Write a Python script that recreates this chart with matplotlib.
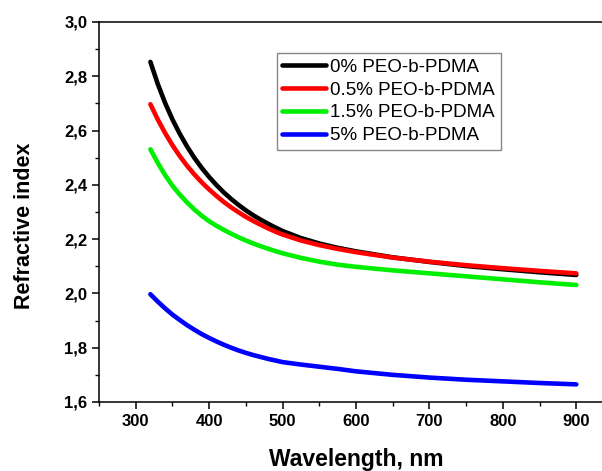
import matplotlib
matplotlib.use("Agg")
import matplotlib.pyplot as plt
from matplotlib.ticker import MultipleLocator, FuncFormatter

plt.rcParams['font.family'] = ['Liberation Sans', 'DejaVu Sans']

wavelength = [320, 330, 340, 350, 360, 370, 380, 390, 400, 410, 420, 430, 440, 450,
              460, 470, 480, 490, 500, 525, 550, 575, 600, 650, 700, 750, 800, 850, 900]
n_0 = [2.853, 2.772, 2.702, 2.641, 2.588, 2.541, 2.499, 2.462, 2.429, 2.399, 2.372,
       2.348, 2.326, 2.306, 2.288, 2.272, 2.257, 2.243, 2.230, 2.204, 2.184, 2.168,
       2.155, 2.133, 2.116, 2.101, 2.089, 2.078, 2.068]
n_05 = [2.697, 2.641, 2.591, 2.546, 2.506, 2.470, 2.438, 2.409, 2.383, 2.359, 2.337,
        2.317, 2.299, 2.282, 2.267, 2.253, 2.240, 2.228, 2.217, 2.195, 2.178, 2.164,
        2.152, 2.132, 2.117, 2.104, 2.093, 2.083, 2.074]
n_15 = [2.531, 2.481, 2.436, 2.397, 2.364, 2.335, 2.309, 2.286, 2.266, 2.249, 2.234,
        2.220, 2.207, 2.195, 2.184, 2.174, 2.165, 2.156, 2.148, 2.131, 2.117, 2.106,
        2.098, 2.085, 2.074, 2.063, 2.052, 2.041, 2.031]
n_5 = [1.997, 1.970, 1.945, 1.922, 1.902, 1.883, 1.866, 1.850, 1.836, 1.823, 1.811,
       1.800, 1.790, 1.781, 1.773, 1.766, 1.759, 1.753, 1.747, 1.738, 1.730, 1.722,
       1.713, 1.700, 1.690, 1.682, 1.676, 1.670, 1.665]

series = [
    (n_0, '#000000', '0% PEO-b-PDMA'),
    (n_05, '#ff0000', '0.5% PEO-b-PDMA'),
    (n_15, '#00ee00', '1.5% PEO-b-PDMA'),
    (n_5, '#0000ff', '5% PEO-b-PDMA'),
]

W, H = 602, 471
fig = plt.figure(figsize=(W / 100, H / 100), dpi=100)
# right spine sits just past the figure edge, as in the reference crop
ax = fig.add_axes([99 / W, 1 - 402 / H, (613 - 99) / W, (402 - 22) / H])

for y, c, lab in series:
    ax.plot(wavelength, y, color=c, lw=3.3, label=lab,
            solid_capstyle='round', solid_joinstyle='round')

ax.set_xlim(250, 950)
ax.set_ylim(1.6, 3.0)
ax.xaxis.set_major_locator(MultipleLocator(100))
ax.xaxis.set_minor_locator(MultipleLocator(50))
ax.yaxis.set_major_locator(MultipleLocator(0.2))
ax.yaxis.set_minor_locator(MultipleLocator(0.1))
ax.yaxis.set_major_formatter(FuncFormatter(lambda v, p: f"{v:.1f}".replace('.', ',')))

ax.tick_params(which='major', direction='out', length=5, width=1.1,
               labelsize=12, top=False, right=False, pad=3.5)
ax.tick_params(which='minor', direction='out', length=3, width=1.0, top=False, right=False)
for lbl in ax.get_xticklabels() + ax.get_yticklabels():
    lbl.set_fontweight('bold')
for s in ax.spines.values():
    s.set_linewidth(1.1)

ax.set_xlabel('Wavelength, nm', fontsize=16.5, fontweight='bold', labelpad=14)
ax.set_ylabel('Refractive index', fontsize=15.5, fontweight='bold')
ax.yaxis.set_label_coords(-0.124, 0.463)

leg = ax.legend(loc='upper left', bbox_to_anchor=(0.346, 0.918), fontsize=13.5,
                handlelength=2.3, handletextpad=0.25, borderpad=0.3,
                labelspacing=0.3, fancybox=False, framealpha=1, borderaxespad=0)
leg.get_frame().set_edgecolor('#888888')
leg.get_frame().set_linewidth(1.0)

fig.savefig('out.png', dpi=100)
